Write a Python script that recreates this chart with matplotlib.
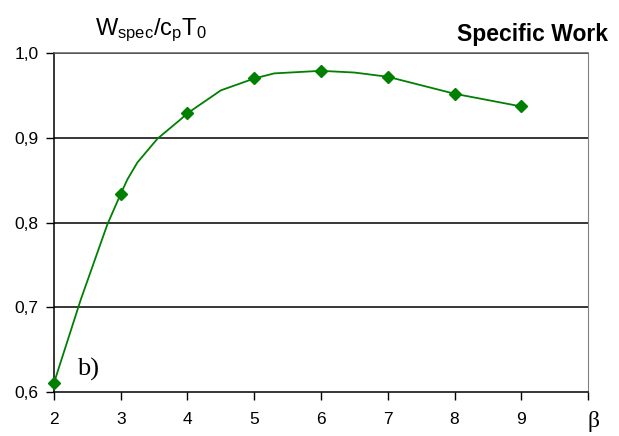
import matplotlib
matplotlib.use("Agg")
import matplotlib.pyplot as plt

plt.rcParams['font.family'] = ['Liberation Sans', 'DejaVu Sans']
plt.rcParams['mathtext.fontset'] = 'custom'
plt.rcParams['mathtext.rm'] = 'Liberation Sans'
plt.rcParams['mathtext.it'] = 'Liberation Sans'

# marker points
beta = [2, 3, 4, 5, 6, 7, 8, 9]
work = [0.611, 0.834, 0.929, 0.970, 0.979, 0.972, 0.952, 0.937]

# points along the drawn curve
beta_curve = [2, 2.4, 2.8, 3, 3.1, 3.25, 3.55, 3.9, 4, 4.5, 5, 5.3, 6, 6.5,
              7, 8, 8.6, 9]
work_curve = [0.611, 0.709, 0.798, 0.834, 0.851, 0.871, 0.899, 0.922, 0.929,
              0.956, 0.970, 0.976, 0.979, 0.977, 0.972, 0.952, 0.943, 0.937]

x_ticks = [2, 3, 4, 5, 6, 7, 8, 9, 10]
x_labels = ['2', '3', '4', '5', '6', '7', '8', '9', '']
y_ticks = [0.6, 0.7, 0.8, 0.9, 1.0]
y_labels = ['0,6', '0,7', '0,8', '0,9', '1,0']

fig = plt.figure(figsize=(6.19, 4.36), dpi=100)
ax = fig.add_axes([0.0872, 0.1002, 0.8628, 0.7782])

for y in y_ticks[1:]:
    ax.axhline(y, color='black', lw=1.1, zorder=1)

ax.plot(beta_curve, work_curve, color='#008000', lw=1.3, zorder=3)
ax.plot(beta, work, ls='none', marker='D', ms=6, color='#008000', zorder=4,
        clip_on=False)

ax.set_xlim(2, 10)
ax.set_ylim(0.6, 1.0)
ax.set_xticks(x_ticks)
ax.set_xticklabels(x_labels)
ax.set_yticks(y_ticks)
ax.set_yticklabels(y_labels)
ax.tick_params(axis='both', direction='out', length=6, width=1, colors='black',
               labelsize=12.5)
ax.tick_params(axis='y', pad=5)
ax.tick_params(axis='x', pad=8)

for side in ['left', 'bottom']:
    ax.spines[side].set_color('black')
    ax.spines[side].set_linewidth(1.1)
ax.spines['right'].set_color('#808080')
ax.spines['top'].set_color('#606060')
ax.spines['top'].set_linewidth(1.1)

fig.text(0.153, 0.93, r'$\mathrm{W_{spec}/c_{p}T_{0}}$', fontsize=17,
         ha='left', va='center')
fig.text(0.982, 0.922, 'Specific Work', fontsize=16.5, fontweight='bold',
         ha='right', va='center')
ax.text(2.35, 0.627, 'b)', fontsize=19, family='Liberation Serif',
        ha='left', va='center')
fig.text(0.958, 0.01, r'β', fontsize=17, family='Liberation Serif',
         ha='center', va='bottom')

fig.savefig('out.png', dpi=100)
